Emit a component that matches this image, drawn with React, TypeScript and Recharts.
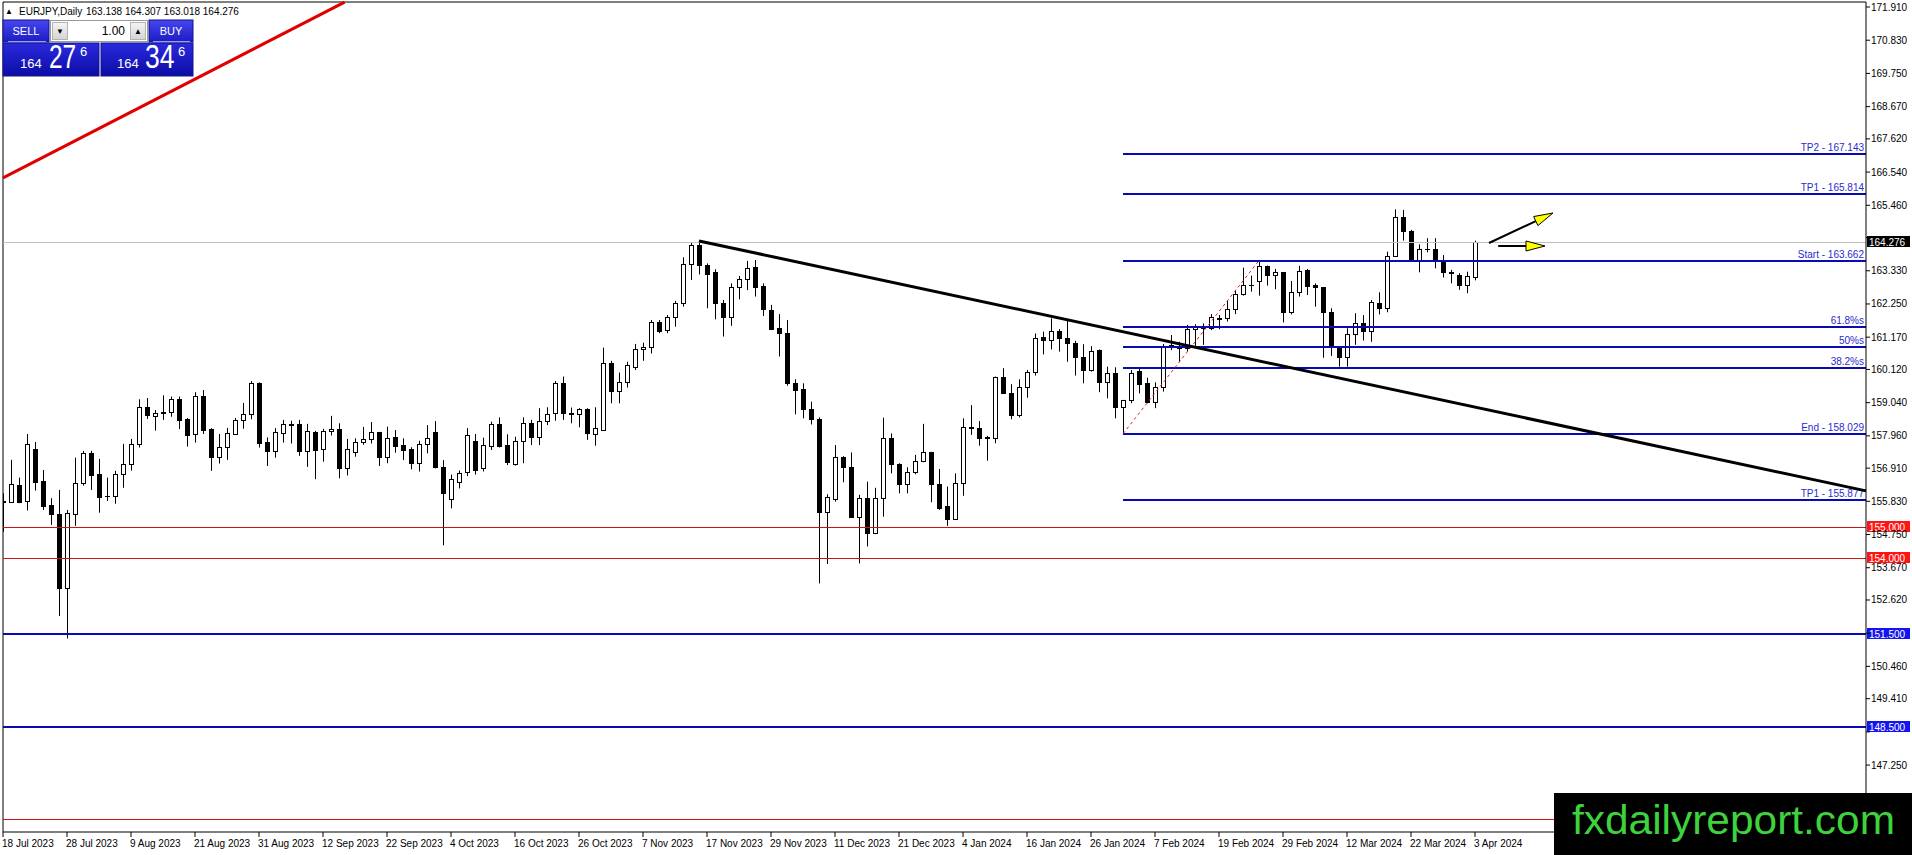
import React from "react";
import { ComposedChart, Bar, XAxis, YAxis, ReferenceLine } from "recharts";

// daily bars, 18 Jul 2023 .. 3 Apr 2024 (one label every 8 bars)
const dateLabels = [
  "18 Jul 2023", "28 Jul 2023", "9 Aug 2023", "21 Aug 2023", "31 Aug 2023", "12 Sep 2023",
  "22 Sep 2023", "4 Oct 2023", "16 Oct 2023", "26 Oct 2023", "7 Nov 2023", "17 Nov 2023",
  "29 Nov 2023", "11 Dec 2023", "21 Dec 2023", "4 Jan 2024", "16 Jan 2024", "26 Jan 2024",
  "7 Feb 2024", "19 Feb 2024", "29 Feb 2024", "12 Mar 2024", "22 Mar 2024", "3 Apr 2024",
];
const labelBars = dateLabels.map((_, i) => i * 8);

const opens = [
  155.85, 155.82, 156.36, 155.83, 157.53, 156.49, 155.71, 155.42, 153.02, 155.41,
  156.42, 157.39, 156.71, 156.01, 156.01, 156.71, 157.03, 157.68, 158.89, 158.62,
  158.74, 158.73, 159.15, 158.51, 158.03, 159.26, 158.18, 157.26, 157.59, 158.03,
  158.47, 158.66, 159.68, 157.76, 157.48, 158.04, 158.35, 158.35, 157.48, 158.10,
  157.52, 158.11, 158.18, 156.90, 157.45, 157.75, 157.85, 158.08, 157.28, 157.91,
  157.66, 157.53, 157.09, 157.68, 158.09, 156.94, 155.90, 156.45, 156.80, 157.79,
  156.90, 157.64, 158.34, 157.65, 157.03, 157.80, 158.37, 157.91, 158.45, 158.71,
  159.67, 158.70, 158.66, 158.82, 158.01, 158.15, 160.32, 159.43, 159.72, 160.19,
  160.77, 160.84, 161.65, 161.40, 161.82, 162.27, 163.54, 164.17, 163.52, 163.30,
  162.27, 161.84, 162.79, 163.05, 163.44, 162.83, 162.05, 161.46, 161.32, 159.67,
  159.48, 158.83, 158.51, 155.49, 155.91, 157.28, 156.95, 155.33, 155.93, 154.81,
  155.93, 157.88, 157.04, 156.38, 156.80, 157.15, 157.42, 156.39, 155.68, 155.26,
  156.42, 158.25, 158.23, 157.91, 157.88, 159.86, 159.34, 158.64, 159.54, 160.03,
  161.16, 161.08, 161.38, 161.13, 160.99, 160.51, 160.10, 160.75, 159.72, 160.02,
  158.91, 159.13, 160.07, 159.67, 159.05, 159.56, 160.93, 160.86, 160.83, 161.44,
  161.51, 161.46, 161.79, 161.78, 162.08, 162.56, 162.88, 163.01, 163.49, 163.19,
  163.28, 162.00, 162.63, 163.35, 162.87, 162.79, 162.00, 160.81, 160.54, 161.26,
  161.62, 161.37, 162.27, 162.11, 163.82, 165.07, 164.62, 163.65, 164.05, 164.04,
  163.68, 163.28, 163.19, 162.87, 163.138,
];
const highs = [
  156.09, 157.18, 156.60, 158.02, 157.76, 156.85, 155.93, 156.20, 155.55, 157.25,
  157.47, 157.47, 157.21, 156.60, 156.82, 157.70, 157.86, 159.15, 159.19, 158.80,
  159.28, 159.24, 159.24, 158.54, 159.38, 159.45, 158.21, 158.02, 158.22, 158.54,
  159.03, 159.74, 159.70, 157.91, 158.21, 158.48, 158.45, 158.48, 158.35, 158.12,
  158.19, 158.61, 158.37, 157.86, 157.88, 158.25, 158.41, 158.09, 158.26, 158.15,
  157.88, 157.59, 157.80, 158.31, 158.44, 157.17, 156.70, 156.83, 158.21, 158.02,
  157.90, 158.42, 158.56, 158.01, 157.93, 158.56, 158.48, 158.86, 158.89, 159.74,
  159.89, 158.88, 158.86, 158.86, 158.89, 160.83, 160.40, 160.02, 160.37, 160.95,
  160.99, 161.73, 161.73, 161.89, 162.35, 163.77, 164.24, 164.30, 163.57, 163.38,
  162.38, 162.92, 163.16, 163.65, 163.68, 162.92, 162.22, 161.92, 161.73, 159.80,
  159.67, 159.07, 158.56, 156.06, 157.66, 157.30, 157.42, 156.04, 156.47, 156.27,
  158.55, 158.04, 157.07, 156.94, 157.34, 158.35, 157.44, 156.88, 156.31, 156.74,
  158.53, 158.96, 158.44, 157.96, 159.89, 160.16, 159.64, 159.80, 160.10, 161.29,
  161.35, 161.78, 161.43, 161.73, 161.05, 160.94, 160.88, 160.77, 160.21, 160.19,
  159.13, 160.10, 160.18, 159.85, 159.70, 160.95, 161.24, 161.02, 161.57, 161.59,
  161.62, 161.92, 161.89, 162.35, 162.71, 163.43, 163.17, 163.68, 163.50, 163.39,
  163.29, 163.00, 163.49, 163.39, 162.92, 162.80, 162.11, 160.83, 161.46, 161.95,
  161.89, 162.38, 162.63, 163.95, 165.33, 165.31, 164.66, 164.19, 164.39, 164.39,
  163.84, 163.36, 163.25, 163.30, 164.307,
];
const lows = [
  154.84, 155.79, 155.77, 155.53, 156.18, 155.55, 155.06, 152.10, 151.37, 155.03,
  156.34, 156.20, 155.46, 155.84, 155.75, 156.27, 156.83, 157.58, 158.51, 158.13,
  158.48, 158.58, 158.18, 157.61, 157.74, 158.02, 156.82, 157.06, 157.18, 158.00,
  158.19, 158.50, 157.58, 156.98, 157.25, 157.74, 157.71, 157.31, 156.95, 156.55,
  157.12, 157.97, 156.58, 156.67, 157.28, 157.67, 157.71, 156.98, 157.07, 157.41,
  157.17, 156.87, 156.80, 157.39, 156.90, 154.40, 155.60, 156.25, 156.65, 156.70,
  156.80, 157.50, 157.58, 157.01, 156.99, 157.07, 157.66, 157.66, 158.31, 158.45,
  158.48, 158.37, 158.24, 157.83, 157.64, 158.12, 159.02, 159.02, 159.53, 160.10,
  160.40, 160.64, 161.30, 161.30, 161.51, 162.16, 163.03, 163.21, 162.11, 161.75,
  161.19, 161.54, 162.40, 162.70, 162.49, 161.86, 161.40, 160.54, 159.59, 158.66,
  158.53, 158.33, 153.16, 153.79, 155.82, 156.45, 155.30, 153.81, 154.36, 154.76,
  155.33, 156.74, 156.09, 156.09, 156.71, 157.10, 155.80, 155.55, 155.03, 155.22,
  156.01, 157.99, 157.64, 157.15, 157.72, 159.32, 158.50, 158.56, 159.20, 159.92,
  160.61, 160.77, 160.70, 160.37, 159.92, 159.67, 160.05, 159.38, 159.18, 158.53,
  158.03, 159.02, 159.34, 159.02, 158.86, 159.40, 160.75, 160.37, 160.70, 160.86,
  160.92, 161.40, 161.43, 161.68, 161.92, 162.52, 162.65, 162.52, 162.85, 162.73,
  161.65, 161.91, 162.49, 162.54, 162.16, 160.50, 160.56, 160.21, 160.21, 160.92,
  161.06, 161.02, 161.91, 161.98, 163.80, 164.31, 163.63, 163.28, 163.93, 163.41,
  163.11, 162.92, 162.71, 162.60, 163.018,
];
const closes = [
  155.82, 156.38, 155.81, 157.68, 156.47, 155.69, 155.41, 153.02, 155.44, 156.42,
  157.39, 156.70, 155.98, 155.99, 156.71, 157.03, 157.68, 158.89, 158.63, 158.70,
  158.69, 159.15, 158.49, 158.00, 159.26, 158.16, 157.28, 157.59, 158.04, 158.48,
  158.67, 159.68, 157.74, 157.48, 158.08, 158.34, 158.32, 157.48, 158.12, 157.50,
  158.13, 158.18, 156.90, 157.53, 157.75, 157.85, 158.08, 157.28, 157.88, 157.64,
  157.50, 157.09, 157.68, 157.88, 156.94, 156.10, 156.55, 156.75, 157.98, 156.85,
  157.66, 158.34, 157.63, 157.12, 157.80, 158.37, 157.91, 158.45, 158.67, 159.67,
  158.69, 158.68, 158.82, 158.04, 158.21, 160.32, 159.43, 159.72, 160.27, 160.79,
  160.84, 161.65, 161.38, 161.82, 162.27, 163.54, 164.17, 163.52, 163.23, 162.27,
  161.84, 162.79, 163.05, 163.41, 162.81, 162.08, 161.44, 161.29, 159.69, 159.45,
  158.82, 158.50, 155.49, 155.96, 157.26, 156.94, 155.33, 155.93, 154.81, 155.93,
  157.88, 157.03, 156.38, 156.80, 157.15, 157.42, 156.38, 155.62, 155.26, 156.42,
  158.24, 158.23, 157.88, 157.89, 159.86, 159.34, 158.64, 159.54, 160.03, 161.15,
  161.08, 161.38, 161.13, 160.97, 160.51, 160.10, 160.73, 159.72, 160.02, 158.91,
  159.13, 160.02, 159.65, 159.05, 159.56, 160.89, 160.89, 160.83, 161.43, 161.51,
  161.46, 161.81, 161.77, 162.08, 162.56, 162.87, 162.86, 163.49, 163.19, 163.28,
  162.00, 162.65, 163.33, 162.85, 162.79, 162.00, 160.84, 160.54, 161.26, 161.62,
  161.37, 162.30, 162.11, 163.82, 165.07, 164.62, 163.65, 164.04, 164.03, 163.71,
  163.28, 163.26, 162.87, 163.16, 164.276,
];

const priceTicks = [
  171.91, 170.83, 169.75, 168.67, 167.62, 166.54, 165.46, 164.41, 163.33, 162.25, 161.17, 160.12,
  159.04, 157.96, 156.91, 155.83, 154.75, 153.67, 152.62, 151.54, 150.46, 149.41, 148.33, 147.25, 146.17,
];

// fibo expansion drawn from the 26 Jan low to the 20 Feb high
const fibNames = ["TP2 - 167.143", "TP1 - 165.814", "Start - 163.662", "61.8%s", "50%s", "38.2%s", "End - 158.029", "TP1 - 155.877"];
const fibValues = [167.143, 165.814, 163.662, 161.51, 160.846, 160.181, 158.029, 155.877];
const fibFromBar = 140;
const fibToBar = 157;

const redLevels = [155.0, 154.0, 145.5];
const blueLevels = [151.5, 148.5];
const boxedLevels = [155.0, 154.0, 151.5, 148.5];
const lastPrice = 164.276;

const yMin = 145.073;
const yMax = 172.073;
const xMax = 232.875;

const candles = opens.map((o, i) => ({ i, o, h: highs[i], l: lows[i], c: closes[i], range: [lows[i], highs[i]] }));

const font = "'Liberation Sans', Arial, sans-serif";

function Candle(p: any) {
  const { x, y, width, height, payload } = p;
  const { o, h, l, c } = payload;
  const k = height / (h - l);
  const py = (v: number) => y + (h - v) * k;
  const r = Math.round(x + width / 2);
  const t = Math.round(py(Math.max(o, c)));
  const b = Math.round(py(Math.min(o, c)));
  let body;
  if (b - t < 1) body = <line x1={r - 2} x2={r + 3} y1={t + 0.5} y2={t + 0.5} stroke="#000" />;
  else if (c >= o) body = <rect x={r - 1.5} y={t + 0.5} width={4} height={b - t} fill="#fff" stroke="#000" />;
  else body = <rect x={r - 2} y={t} width={5} height={b - t + 1} fill="#000" />;
  return (
    <g>
      <line x1={r + 0.5} x2={r + 0.5} y1={py(h)} y2={py(l)} stroke="#000" />
      {body}
    </g>
  );
}

const axisBox = (p: any, fill: string, text: string) => {
  const y = Math.round(p.y1);
  const xr = Math.max(p.x1, p.x2);
  return (
    <g>
      <rect x={xr + 1} y={y - 6} width={43} height={11} fill={fill} />
      <text x={xr + 3} y={y + 3.5} fill="#fff" fontSize={10} fontFamily={font}>{text}</text>
    </g>
  );
};

const levelShape = (stroke: string, sw: number, box?: string) => (p: any) => {
  const y = Math.round(p.y1) + (sw === 1 ? 0.5 : 0);
  return (
    <g>
      <line x1={p.x1} x2={p.x2} y1={y} y2={y} stroke={stroke} strokeWidth={sw} />
      {box ? axisBox(p, box, Number(p.value ?? 0).toFixed(3)) : null}
    </g>
  );
};

const fibShape = (name: string) => (p: any) => {
  const y = Math.round(p.y1);
  const xr = Math.max(p.x1, p.x2);
  return (
    <g>
      <line x1={p.x1} x2={p.x2} y1={y} y2={y} stroke="#0a0ab4" strokeWidth={2} />
      <text x={xr - 2} y={y - 3} textAnchor="end" fill="#2a2ad0" fontSize={10} fontFamily={font}>{name}</text>
    </g>
  );
};

const arrowShape = (p: any) => {
  const { x1, y1, x2, y2 } = p;
  const len = Math.hypot(x2 - x1, y2 - y1);
  const ux = (x2 - x1) / len;
  const uy = (y2 - y1) / len;
  const bx = x2 - ux * 19;
  const by = y2 - uy * 19;
  const pts = `${x2},${y2} ${bx - uy * 5},${by + ux * 5} ${bx + uy * 5},${by - ux * 5}`;
  return (
    <g>
      <line x1={x1} y1={y1} x2={bx} y2={by} stroke="#000" strokeWidth={2} />
      <polygon points={pts} fill="#ffff00" stroke="#000" strokeWidth={1} />
    </g>
  );
};

const xTick = (p: any) => {
  const idx = labelBars.indexOf(p.payload.value);
  return (
    <text x={p.x - 1} y={p.y + 10} fontSize={10} fontFamily={font} fill="#000" textAnchor="start">
      {dateLabels[idx]}
    </text>
  );
};

// price labels sitting under a boxed level are hidden by the box, as in the terminal
const coveredTick = (v: number) => [lastPrice, ...boxedLevels].some((b) => Math.abs(b - v) < 0.2);

const yTick = (p: any) => {
  const v = Number(p.payload.value);
  if (coveredTick(v)) return <g />;
  return (
    <text x={p.x} y={p.y + 3.5} fontSize={10} fontFamily={font} fill="#000" textAnchor="start">
      {v.toFixed(3)}
    </text>
  );
};

function TradePanel() {
  return (
    <svg width={240} height={80} style={{ position: "absolute", left: 0, top: 0 }}>
      <defs>
        <linearGradient id="btn" x1="0" y1="0" x2="0" y2="1">
          <stop offset="0" stopColor="#4646ee" />
          <stop offset="1" stopColor="#1c1cc4" />
        </linearGradient>
        <linearGradient id="big" x1="0" y1="0" x2="0" y2="1">
          <stop offset="0" stopColor="#2a2ade" />
          <stop offset="1" stopColor="#0c0ca6" />
        </linearGradient>
        <linearGradient id="spin" x1="0" y1="0" x2="0" y2="1">
          <stop offset="0" stopColor="#f4f4f4" />
          <stop offset="1" stopColor="#d4d4d4" />
        </linearGradient>
      </defs>
      <text x={5} y={14} fontSize={8} fontFamily={font} fill="#000">▲</text>
      <text x={19} y={15} fontSize={10} fontFamily={font} fill="#000">EURJPY,Daily</text>
      <text x={86} y={15} fontSize={10} fontFamily={font} fill="#000">163.138 164.307 163.018 164.276</text>

      <rect x={3} y={20} width={46} height={22} fill="url(#btn)" stroke="#14148a" />
      <text x={26} y={35} textAnchor="middle" fontSize={11} fontFamily={font} fill="#fff">SELL</text>
      <line x1={8} x2={46} y1={41.5} y2={41.5} stroke="#9a9aff" />
      <rect x={50.5} y={20.5} width={97} height={21} fill="#fff" stroke="#9a9a9a" />
      <rect x={52.5} y={22.5} width={15} height={17} fill="url(#spin)" stroke="#b4b4b4" />
      <text x={60} y={34} textAnchor="middle" fontSize={8} fontFamily={font} fill="#000">▼</text>
      <text x={125} y={35} textAnchor="end" fontSize={12} fontFamily={font} fill="#000">1.00</text>
      <rect x={130.5} y={22.5} width={15} height={17} fill="url(#spin)" stroke="#b4b4b4" />
      <text x={138} y={34} textAnchor="middle" fontSize={8} fontFamily={font} fill="#000">▲</text>
      <rect x={149} y={20} width={44} height={22} fill="url(#btn)" stroke="#14148a" />
      <text x={171} y={35} textAnchor="middle" fontSize={11} fontFamily={font} fill="#fff">BUY</text>
      <line x1={153} x2={190} y1={41.5} y2={41.5} stroke="#9a9aff" />

      <rect x={3} y={43} width={96} height={33} fill="url(#big)" stroke="#14148a" />
      <text x={20} y={68} fontSize={13} fontFamily={font} fill="#fff">164</text>
      <text transform="translate(49,68) scale(0.72,1)" fontSize={34} fontFamily={font} fill="#fff">27</text>
      <text x={80} y={56} fontSize={13} fontFamily={font} fill="#fff">6</text>
      <rect x={101} y={43} width={92} height={33} fill="url(#big)" stroke="#14148a" />
      <text x={117} y={68} fontSize={13} fontFamily={font} fill="#fff">164</text>
      <text transform="translate(145,68) scale(0.78,1)" fontSize={34} fontFamily={font} fill="#fff">34</text>
      <text x={178} y={56} fontSize={13} fontFamily={font} fill="#fff">6</text>
    </svg>
  );
}

export default function App() {
  return (
    <div style={{ position: "relative", width: 1912, height: 855, background: "#fff", overflow: "hidden", fontFamily: font }}>
      <style>{"body{margin:0;overflow:hidden}"}</style>
      <ComposedChart width={1912} height={855} data={candles} margin={{ top: 2, right: 0, bottom: 0, left: 3 }}>
        <XAxis
          dataKey="i"
          type="number"
          domain={[0, xMax]}
          allowDataOverflow
          ticks={labelBars}
          interval={0}
          height={23}
          tickSize={5}
          tickMargin={0}
          tickLine={{ stroke: "#000" }}
          axisLine={{ stroke: "#000" }}
          tick={xTick}
        />
        <YAxis
          orientation="right"
          type="number"
          domain={[yMin, yMax]}
          allowDataOverflow
          ticks={priceTicks}
          interval={0}
          width={46}
          tickSize={4}
          tickMargin={1}
          tickLine={{ stroke: "#000" }}
          axisLine={{ stroke: "#000" }}
          tick={yTick}
        />
        <Bar dataKey="range" barSize={5} shape={(p: any) => <Candle {...p} />} isAnimationActive={false} />

        <ReferenceLine x={0} stroke="#000" />
        <ReferenceLine y={yMax} stroke="#000" />

        <ReferenceLine y={lastPrice} ifOverflow="visible" shape={(p: any) => (
          <g>
            <line x1={p.x1} x2={p.x2} y1={Math.round(p.y1) + 0.5} y2={Math.round(p.y1) + 0.5} stroke="#c0c0c0" />
            {axisBox({ ...p, y1: p.y1 + 0.5 }, "#000", lastPrice.toFixed(3))}
          </g>
        )} />
        {redLevels.map((v) => (
          <ReferenceLine key={"r" + v} y={v} ifOverflow="visible"
            shape={(p: any) => levelShape("#c81414", 1, boxedLevels.includes(v) ? "#ff1414" : undefined)({ ...p, value: v })} />
        ))}
        {blueLevels.map((v) => (
          <ReferenceLine key={"b" + v} y={v} ifOverflow="visible"
            shape={(p: any) => levelShape("#0a0ab4", 2, boxedLevels.includes(v) ? "#1414f0" : undefined)({ ...p, value: v })} />
        ))}

        {fibValues.map((v, i) => (
          <ReferenceLine key={"f" + i} ifOverflow="visible"
            segment={[{ x: fibFromBar, y: v }, { x: xMax, y: v }]} shape={fibShape(fibNames[i])} />
        ))}
        <ReferenceLine ifOverflow="visible" stroke="#e02020" strokeDasharray="3 3"
          segment={[{ x: fibFromBar, y: fibValues[6] }, { x: fibToBar, y: fibValues[2] }]} />

        <ReferenceLine ifOverflow="visible" stroke="#000" strokeWidth={3}
          segment={[{ x: 87, y: 164.3 }, { x: xMax, y: 156.17 }]} />
        <ReferenceLine ifOverflow="visible" stroke="#e00000" strokeWidth={3}
          segment={[{ x: 0, y: 166.35 }, { x: 42.7, y: 172.07 }]} />

        <ReferenceLine ifOverflow="visible" segment={[{ x: 185.75, y: 164.233 }, { x: 193.75, y: 165.209 }]} shape={arrowShape} />
        <ReferenceLine ifOverflow="visible" segment={[{ x: 186.9, y: 164.136 }, { x: 192.75, y: 164.136 }]} shape={arrowShape} />
      </ComposedChart>

      <TradePanel />

      <div style={{ position: "absolute", left: 1554, top: 793, width: 358, height: 62, background: "#000" }}>
        <svg width={358} height={62}>
          <text x={18} y={41} fontSize={40} fontFamily={font} fill="#3ed23e" textLength={323} lengthAdjust="spacingAndGlyphs">
            fxdailyreport.com
          </text>
        </svg>
      </div>
    </div>
  );
}
